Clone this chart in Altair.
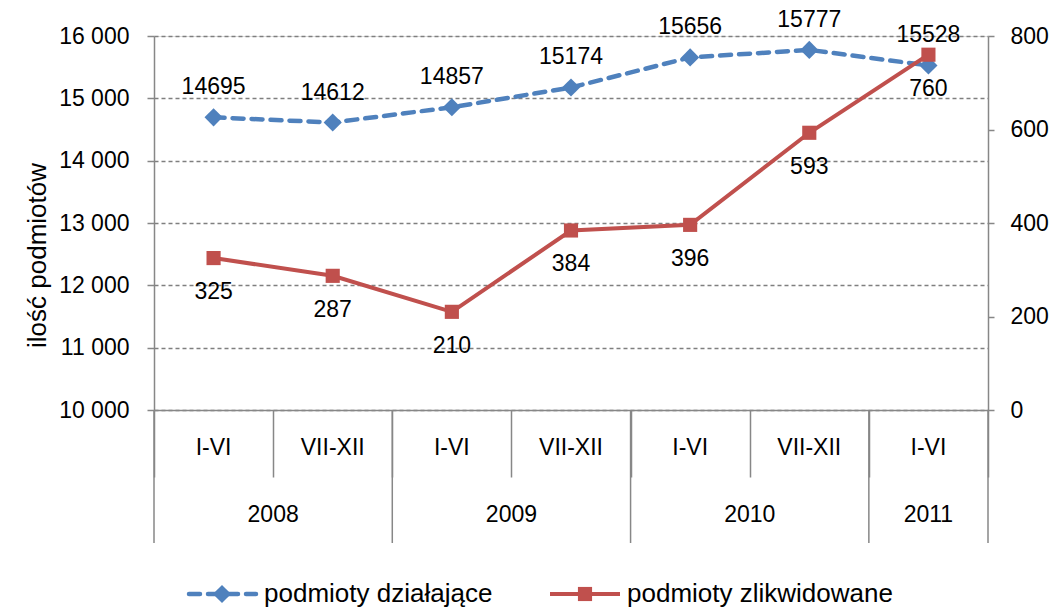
import altair as alt
import pandas as pd

# ---- data ----
periods = ["I-VI", "VII-XII", "I-VI", "VII-XII", "I-VI", "VII-XII", "I-VI"]
years = ["2008", "2008", "2009", "2009", "2010", "2010", "2011"]
dzialajace = [14695, 14612, 14857, 15174, 15656, 15777, 15528]
zlikwidowane = [325, 287, 210, 384, 396, 593, 760]
left_ticks = [10000, 11000, 12000, 13000, 14000, 15000, 16000]
right_ticks = [0, 200, 400, 600, 800]
series_names = ["podmioty działające", "podmioty zlikwidowane"]

BLUE = "#4F81BD"
RED = "#C0504D"
GRAY = "#878787"
FONT = "Liberation Sans"
FS = 23       # tick / data / category labels
FS_BIG = 26   # axis title / legend
W, H = 834, 374

idx = list(range(len(periods)))
df = pd.DataFrame({"idx": idx, "period": periods, "year": years,
                   "dz": dzialajace, "zl": zlikwidowane})

# year groups
yr_rows = []
for y in dict.fromkeys(years):
    ids = [i for i, v in enumerate(years) if v == y]
    yr_rows.append({"year": y, "mid": (ids[0] + ids[-1]) / 2})
yr_df = pd.DataFrame(yr_rows)

# separator lines between year groups
seps = [-0.5] + [i + 0.5 for i in range(len(years) - 1) if years[i] != years[i + 1]] + [len(years) - 0.5]
sep_df = pd.DataFrame({"b": seps})

xscale = alt.Scale(domain=[-0.5, len(periods) - 0.5], nice=False, zero=False)
xaxis = alt.Axis(values=[i - 0.5 for i in range(len(periods) + 1)], labels=False,
                 tickSize=67, tickColor=GRAY, domainColor=GRAY, grid=False, title=None,
                 tickWidth=1.5, domainWidth=1.5)
X = alt.X("idx:Q", scale=xscale, axis=xaxis)

yl_scale = alt.Scale(domain=[10000, 16000], nice=False, zero=False)
yr_scale = alt.Scale(domain=[0, 800], nice=False)

yl_axis = alt.Axis(orient="left", values=left_ticks, title="ilość podmiotów",
                   labelExpr="replace(format(datum.value, ','), ',', ' ')",
                   grid=True, gridDash=[4, 3], gridColor="#7f7f7f", gridWidth=1.3,
                   domainColor=GRAY, tickColor=GRAY, tickSize=7, domainWidth=1.5, tickWidth=1.5,
                   labelPadding=18, labelFontSize=FS, labelColor="black", labelFont=FONT,
                   titleFontSize=FS_BIG, titleFontWeight="normal", titleColor="black",
                   titleFont=FONT, titleX=-117, titleY=219, titleBaseline="middle",
                   titleAngle=270)
yr_axis = alt.Axis(orient="right", values=right_ticks, title=None, grid=False,
                   domainColor=GRAY, tickColor=GRAY, tickSize=6, domainWidth=1.5, tickWidth=1.5,
                   labelPadding=16, labelFontSize=FS, labelColor="black", labelFont=FONT)

base = alt.Chart(df)

blue_line = base.mark_line(color=BLUE, strokeWidth=4.5, strokeDash=[11, 8], strokeCap="round").encode(
    x=X, y=alt.Y("dz:Q", scale=yl_scale, axis=yl_axis))
blue_pts = base.mark_point(shape="diamond", filled=True, opacity=1, color=BLUE, size=330).encode(
    x=X, y=alt.Y("dz:Q", scale=yl_scale, axis=yl_axis))
blue_txt = base.mark_text(dy=-30, fontSize=FS, font=FONT, color="black", baseline="middle").encode(
    x=X, y=alt.Y("dz:Q", scale=yl_scale, axis=yl_axis), text="dz:Q")
left = alt.layer(blue_line, blue_pts, blue_txt)

red_line = base.mark_line(color=RED, strokeWidth=4).encode(
    x=X, y=alt.Y("zl:Q", scale=yr_scale, axis=yr_axis))
red_pts = base.mark_point(shape="square", filled=True, opacity=1, color=RED, size=200).encode(
    x=X, y=alt.Y("zl:Q", scale=yr_scale, axis=yr_axis))
red_txt = base.mark_text(dy=34, fontSize=FS, font=FONT, color="black", baseline="middle").encode(
    x=X, y=alt.Y("zl:Q", scale=yr_scale, axis=yr_axis), text="zl:Q")
right = alt.layer(red_line, red_pts, red_txt)

# category axis decorations
period_txt = base.mark_text(fontSize=FS, font=FONT, color="black", baseline="middle").encode(
    x=alt.X("idx:Q", scale=xscale), y=alt.value(H + 38), text="period:N")
year_txt = alt.Chart(yr_df).mark_text(fontSize=FS, font=FONT, color="black", baseline="middle").encode(
    x=alt.X("mid:Q", scale=xscale), y=alt.value(H + 105), text="year:N")
sep_rules = alt.Chart(sep_df).mark_rule(color=GRAY, strokeWidth=1.5).encode(
    x=alt.X("b:Q", scale=xscale), y=alt.value(H), y2=alt.value(H + 133))

# legend
leg_y = H + 184
leg_df = pd.DataFrame({"name": series_names})
leg_blue_line = alt.Chart(leg_df.iloc[[0]]).mark_rule(color=BLUE, strokeWidth=4.5, strokeDash=[11, 8], strokeCap="round").encode(
    x=alt.value(35), x2=alt.value(102), y=alt.value(leg_y))
leg_blue_pt = alt.Chart(leg_df.iloc[[0]]).mark_point(shape="diamond", filled=True, opacity=1, color=BLUE, size=330).encode(
    x=alt.value(68), y=alt.value(leg_y))
leg_blue_txt = alt.Chart(leg_df.iloc[[0]]).mark_text(align="left", baseline="middle", fontSize=FS_BIG, font=FONT, color="black").encode(
    x=alt.value(110), y=alt.value(leg_y), text="name:N")
leg_red_line = alt.Chart(leg_df.iloc[[1]]).mark_rule(color=RED, strokeWidth=4).encode(
    x=alt.value(396), x2=alt.value(466), y=alt.value(leg_y))
leg_red_pt = alt.Chart(leg_df.iloc[[1]]).mark_point(shape="square", filled=True, opacity=1, color=RED, size=200).encode(
    x=alt.value(431), y=alt.value(leg_y))
leg_red_txt = alt.Chart(leg_df.iloc[[1]]).mark_text(align="left", baseline="middle", fontSize=FS_BIG, font=FONT, color="black").encode(
    x=alt.value(473), y=alt.value(leg_y), text="name:N")

chart = alt.layer(
    left, right, sep_rules, period_txt, year_txt,
    leg_blue_line, leg_blue_pt, leg_blue_txt, leg_red_line, leg_red_pt, leg_red_txt
).resolve_scale(y="independent").properties(
    width=W, height=H,
    autosize=alt.AutoSizeParams(type="none"),
    padding={"left": 146, "top": 28, "right": 61, "bottom": 198},
).configure_view(stroke=None).configure(font=FONT, background="white")

chart.save("out.html", embed_options={"renderer": "svg", "actions": False})
